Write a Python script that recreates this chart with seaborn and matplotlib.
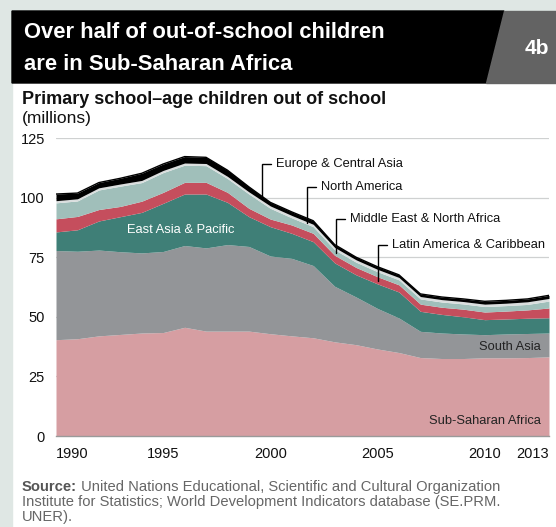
import matplotlib
matplotlib.use("Agg")
import matplotlib.pyplot as plt
from matplotlib.patches import Polygon, Rectangle
import numpy as np
import pandas as pd
import seaborn as sns

# values in millions
years = list(range(1990, 2014))
sub_saharan = [40.4, 40.8, 42.0, 42.6, 43.2, 43.4, 45.6, 44.0, 44.0, 44.0, 42.9, 42.0,
               41.2, 39.5, 38.3, 36.5, 35.0, 32.9, 32.5, 32.5, 32.8, 32.8, 32.9, 33.2]
south_asia = [37.4, 36.7, 36.0, 34.7, 33.6, 34.0, 34.3, 34.9, 36.3, 35.5, 32.6, 32.5,
              30.3, 23.3, 20.0, 17.0, 14.5, 11.0, 10.7, 10.3, 9.7, 10.0, 10.1, 10.0]
east_asia = [7.8, 9.0, 12.2, 14.7, 17.0, 20.2, 21.6, 22.6, 17.7, 12.5, 12.3, 10.5,
             10.0, 9.8, 9.3, 10.3, 10.9, 8.4, 7.8, 7.2, 6.3, 6.3, 6.4, 6.4]
latin_america = [5.5, 5.6, 4.8, 4.3, 4.7, 4.6, 4.9, 4.9, 4.2, 3.5, 3.2, 3.5,
                 3.5, 3.2, 3.1, 3.0, 3.0, 3.0, 3.0, 3.2, 3.2, 3.3, 3.5, 4.1]
middle_east = [6.7, 6.5, 8.2, 8.5, 7.8, 8.3, 7.2, 7.0, 5.8, 6.0, 4.5, 3.0,
               2.8, 2.3, 2.2, 2.1, 2.1, 2.2, 2.2, 2.2, 2.3, 2.3, 2.3, 2.9]
north_america = [0.9, 0.9, 0.9, 0.9, 0.9, 0.9, 0.9, 0.9, 0.9, 0.9, 1.0, 1.0,
                 1.0, 1.0, 1.0, 1.0, 1.0, 1.0, 1.0, 1.0, 1.0, 1.0, 1.1, 1.1]
europe_ca = [2.8, 2.4, 2.2, 2.4, 3.0, 2.7, 2.7, 2.6, 2.6, 2.1, 1.5, 1.5,
             1.5, 1.2, 1.1, 1.1, 1.1, 1.1, 1.1, 1.1, 1.2, 1.2, 1.2, 1.3]

regions = ["Sub-Saharan Africa", "South Asia", "East Asia & Pacific",
           "Latin America & Caribbean", "Middle East & North Africa",
           "North America", "Europe & Central Asia"]
colors = ["#d69ea2", "#939598", "#3f7f77", "#c54e5d", "#a0bfba", "#dadede", "#000000"]
xticks = [1990, 1995, 2000, 2005, 2010, 2013]
yticks = [0, 25, 50, 75, 100, 125]

df = pd.DataFrame({"year": years,
                   regions[0]: sub_saharan, regions[1]: south_asia,
                   regions[2]: east_asia, regions[3]: latin_america,
                   regions[4]: middle_east, regions[5]: north_america,
                   regions[6]: europe_ca})
cum = df[regions].cumsum(axis=1)
df["total"] = cum[regions[-1]]

sns.set_style("white")
plt.rcParams["font.family"] = ["Liberation Sans", "DejaVu Sans"]

W, H = 556, 527
fig = plt.figure(figsize=(W / 100, H / 100), dpi=100)
fig.patch.set_facecolor("white")


def fx(x):
    return x / W


def fy(y):
    return 1 - y / H


# page background strips and the title banner
bg = "#dfe7e4"
fig.patches.append(Rectangle((0, 0), fx(12), 1, transform=fig.transFigure,
                             color=bg, zorder=0))
fig.patches.append(Rectangle((0, fy(11)), 1, 11 / H, transform=fig.transFigure,
                             color=bg, zorder=0))
fig.patches.append(Polygon([(fx(12), fy(11)), (fx(504), fy(11)), (fx(486), fy(83)),
                            (fx(12), fy(83))], closed=True, transform=fig.transFigure,
                           color="black", zorder=1))
fig.patches.append(Polygon([(fx(504), fy(11)), (fx(556), fy(11)), (fx(556), fy(83)),
                            (fx(486), fy(83))], closed=True, transform=fig.transFigure,
                           color="#636363", zorder=1))
fig.text(fx(24), fy(33), "Over half of out-of-school children", color="white",
         fontsize=15.8, fontweight="bold", va="center")
fig.text(fx(24), fy(64), "are in Sub-Saharan Africa", color="white",
         fontsize=15.8, fontweight="bold", va="center")
fig.text(fx(537), fy(48), "4b", color="white", fontsize=15, fontweight="bold",
         va="center", ha="center")

fig.text(fx(22), fy(100), "Primary school\u2013age children out of school",
         fontsize=13, fontweight="bold", va="center", color="#111111")
fig.text(fx(22), fy(118), "(millions)", fontsize=12.5, va="center", color="#111111")

# chart
ax = fig.add_axes([fx(56), fy(436), (549 - 56) / W, (436 - 138) / H])
ax.stackplot(df["year"], *[df[r] for r in regions], colors=colors, lw=0)
sns.lineplot(data=df, x="year", y="total", color="black", lw=1.0, ax=ax)
ax.set_xlim(1990, 2013)
ax.set_ylim(0, 125)
ax.set_yticks(yticks)
ax.set_xticks(xticks)
for t in yticks[1:]:
    ax.axhline(t, color="#cfd1d1", lw=0.9, zorder=0)
for s in ["left", "right", "top"]:
    ax.spines[s].set_visible(False)
ax.spines["bottom"].set_color("#9a9a9a")
ax.spines["bottom"].set_linewidth(1.0)
ax.tick_params(axis="both", length=0, labelsize=10.5, colors="#111111")
ax.tick_params(axis="y", pad=8)
ax.tick_params(axis="x", pad=8)
ax.set_xlabel("")
ax.set_ylabel("")
xl = ax.get_xticklabels()
xl[0].set_ha("left")
xl[-1].set_ha("right")
ax.set_facecolor("none")

lab = 9.3
# inline labels
ax.text(1995.8, 86.5, "East Asia & Pacific", color="white", fontsize=lab,
        ha="center", va="center")
ax.text(2012.6, 37.2, "South Asia", color="#222222", fontsize=lab,
        ha="right", va="center")
ax.text(2012.6, 6.3, "Sub-Saharan Africa", color="#222222", fontsize=lab,
        ha="right", va="center")

# callouts: region index, anchor year, label height
callouts = [(6, 1999.6, 114.1), (5, 2001.7, 104.5), (4, 2003.07, 91.1), (3, 2005.03, 80.3)]
for idx, x0, ylab in callouts:
    top = np.interp(x0, years, cum[regions[idx]])
    base = np.interp(x0, years, cum[regions[idx - 1]])
    y0 = (top + base) / 2
    ax.plot([x0, x0, x0 + 0.42], [y0, ylab, ylab], color="black", lw=1.0,
            solid_joinstyle="miter", clip_on=False)
    ax.text(x0 + 0.66, ylab, regions[idx], fontsize=lab,
            va="center", ha="left", color="#111111")

# source note
src = "#666666"
t1 = fig.text(fx(22), fy(487), "Source:", fontsize=10.6, fontweight="bold",
              color="#555555", va="center")
ax.annotate(" United Nations Educational, Scientific and Cultural Organization",
            xy=(1, 0.5), xycoords=t1, fontsize=10.6, color=src, va="center",
            annotation_clip=False)
fig.text(fx(22), fy(502), "Institute for Statistics; World Development Indicators "
         "database (SE.PRM.", fontsize=10.6, color=src, va="center")
fig.text(fx(22), fy(517), "UNER).", fontsize=10.6, color=src, va="center")

fig.savefig("out.png", dpi=100)
